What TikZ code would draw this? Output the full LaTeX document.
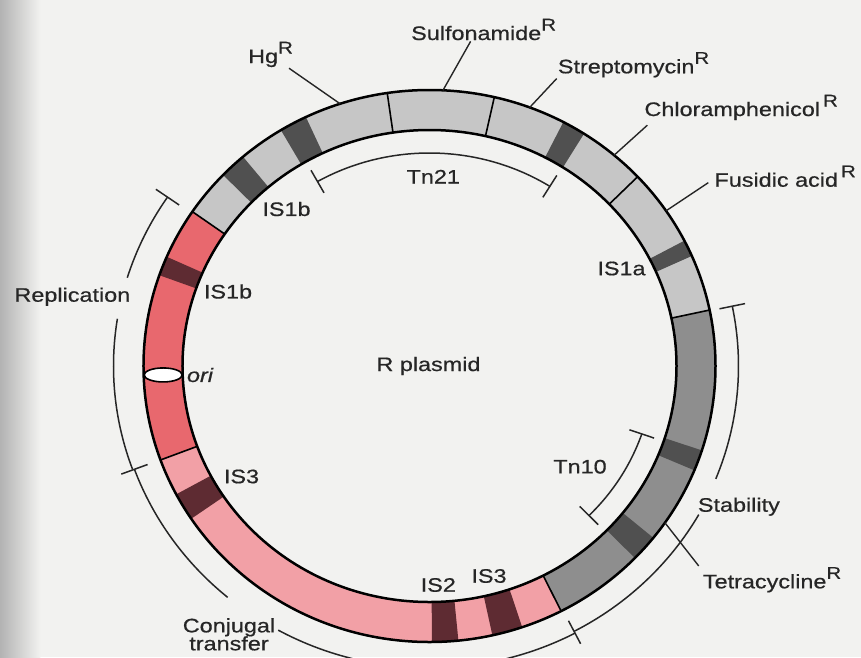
\documentclass[tikz,border=0pt]{standalone}
\usepackage{fontspec}
\setmainfont{Liberation Sans}[FakeStretch=1.2, FakeBold=0.6]
\usetikzlibrary{shapes.geometric}
\definecolor{PageGray}{HTML}{F2F2F0}
\definecolor{GeneGray}{HTML}{C6C6C6}
\definecolor{TnGray}{HTML}{8E8E8E}
\definecolor{ISGray}{HTML}{505050}
\definecolor{RepRed}{HTML}{E8686E}
\definecolor{TraPink}{HTML}{F2A0A6}
\definecolor{ISMaroon}{HTML}{5E2B32}
\newcommand{\resR}{\raisebox{9.5pt}{\fontsize{17}{17}\selectfont R}}
\newcommand{\ringpart}[3]{%
  \fill[#3] (#1:286pt and 276pt) arc[start angle=#1, end angle=#2, x radius=286, y radius=276]
    -- (#2:247pt and 236pt) arc[start angle=#2, end angle=#1, x radius=247, y radius=236] -- cycle;}
\newcommand{\ringcut}[1]{\draw[line width=1.6pt] (#1:247pt and 236pt) -- (#1:286pt and 276pt);}

\begin{document}
\begin{tikzpicture}[x=1pt, y=1pt,
        lbl/.style={font=\fontsize{19.5}{22}\selectfont, text=black!85, inner sep=1pt},
        brk/.style={line width=1.5pt, black!85},
        lead/.style={line width=1.4pt, black!85},
      ]
      \fill[PageGray] (-429.5,-291) rectangle (431.5,366);
      \shade[left color=black!30, right color=PageGray] (-429.5,-291) rectangle (-389,366);
      \useasboundingbox (-429.5,-291) rectangle (431.5,366);

      \ringpart{11.7}{146}{GeneGray}
      \ringpart{146}{199.9}{RepRed}
      \ringpart{199.9}{297.4}{TraPink}
      \ringpart{-62.6}{11.7}{TnGray}
      \ringpart{130.7}{136.2}{ISGray}
      \ringpart{115.6}{121.3}{ISGray}
      \ringpart{57.3}{62.1}{ISGray}
      \ringpart{23.5}{27}{ISGray}
      \ringpart{-22.2}{-17.8}{ISGray}
      \ringpart{-44.1}{-38.5}{ISGray}
      \ringpart{156.7}{160.8}{ISMaroon}
      \ringpart{207.7}{213.6}{ISMaroon}
      \ringpart{270.5}{275.8}{ISMaroon}
      \ringpart{282.7}{288.9}{ISMaroon}
      \ringcut{146}
      \ringcut{98.5}
      \ringcut{76.9}
      \ringcut{43.3}
      \ringcut{11.7}
      \ringcut{-62.6}
      \ringcut{199.9}
      \draw[line width=2.5pt] (0,0) ellipse[x radius=286, y radius=276];
      \draw[line width=2.5pt] (0,0) ellipse[x radius=247, y radius=236];

      \node[ellipse, draw, line width=1.6pt, fill=white, minimum width=38pt, minimum height=14pt, inner sep=0pt]
            (ori) at (182:266.5pt and 256pt) {};
      \node[lbl, font=\fontsize{19.5}{22}\selectfont\itshape] (oriLbl) at (-229.5,-9) {ori};

      \node[lbl] (plasmid) at (-1,0) {R plasmid};
      \node[lbl] (isOneBup) at (-143,157) {IS1b};
      \node[lbl] (isOneBlow) at (-201.5,74.5) {IS1b};
      \node[lbl] (isThreeL) at (-188,-110.5) {IS3};
      \node[lbl] (isOneA) at (192,97.5) {IS1a};
      \node[lbl] (isTwo) at (8.8,-219) {IS2};
      \node[lbl] (isThreeB) at (59.5,-210) {IS3};
      \node[lbl] (tn21) at (3.8,189.3) {Tn21};
      \node[lbl] (tn10) at (150.5,-100.7) {Tn10};

      \node[lbl, anchor=base west] (hgR) at (-182.5,303) {Hg\resR};
      \node[lbl, anchor=base west] (sulfR) at (-19.5,326) {Sulfonamide\resR};
      \node[lbl, anchor=base west] (strepR) at (127.2,292.7) {Streptomycin\resR};
      \node[lbl, anchor=base west] (chlorR) at (213.8,250) {Chloramphenicol\hspace{3pt}\resR};
      \node[lbl, anchor=base west] (fusR) at (283.8,179.3) {Fusidic acid\hspace{3pt}\resR};
      \node[lbl, anchor=base west] (tetR) at (272.2,-222.3) {Tetracycline\resR};
      \node[lbl, anchor=base west] (stab) at (267.2,-145.7) {Stability};
      \node[lbl, anchor=base west] (repl) at (-416.2,64.3) {Replication};
      \node[lbl, anchor=north, align=center] (conj) at (-200.5,-251) {Conjugal\\[-4pt]transfer};

      \coordinate (hgPt) at (108.2:286pt and 276pt);
      \coordinate (sulfPt) at (87.3:286pt and 276pt);
      \coordinate (strepPt) at (69.5:286pt and 276pt);
      \coordinate (chlorPt) at (49.8:286pt and 276pt);
      \coordinate (fusPt) at (34.2:286pt and 276pt);
      \coordinate (tetPt) at (-34.6:286pt and 276pt);
      \draw[lead] ([xshift=-5pt]hgR.south east) -- (hgPt);
      \draw[lead] ([xshift=-13pt]sulfR.south) -- (sulfPt);
      \draw[lead] (strepR.south west) -- (strepPt);
      \draw[lead] ([xshift=4pt,yshift=-4pt]chlorR.south west) -- (chlorPt);
      \draw[lead] ([xshift=-5pt,yshift=4pt]fusR.base west) -- (fusPt);
      \draw[lead] ([xshift=-3pt]tetR.north west) -- (tetPt);

      \draw[brk] (146:316pt and 302pt) arc[start angle=146, end angle=163, x radius=316, y radius=302];
      \draw[brk] (171:316pt and 302pt) arc[start angle=171, end angle=200, x radius=316, y radius=302];
      \draw[brk] (146:302pt and 288pt) -- (146:330pt and 316pt);
      \draw[brk] (200:300pt and 288pt) -- (200:328pt and 316pt);
      \draw[brk] (200:314pt and 302pt) arc[start angle=200, end angle=230, x radius=314, y radius=302];
      \draw[brk] (241:312pt and 302pt) arc[start angle=241, end angle=297.8, x radius=312, y radius=302];
      \draw[brk] (-62.2:298pt and 288pt) -- (-62.2:324pt and 314pt);
      \draw[brk] (-62.2:310pt and 300pt) arc[start angle=-62.2, end angle=-29.7, x radius=310, y radius=300];
      \draw[brk] (-22.1:309pt and 300pt) arc[start angle=-22.1, end angle=11.5, x radius=309, y radius=300];
      \draw[brk] (11.5:296pt and 287pt) -- (11.5:322pt and 313pt);

      \draw[brk] (57.5:224pt and 213pt) arc[start angle=57.5, end angle=120, x radius=224, y radius=213];
      \draw[brk] (57.5:211pt and 200pt) -- (57.5:237pt and 226pt);
      \draw[brk] (120:211pt and 200pt) -- (120:237pt and 226pt);
      \draw[brk] (-44.6:224pt and 213pt) arc[start angle=-44.6, end angle=-18.6, x radius=224, y radius=213];
      \draw[brk] (-44.6:211pt and 200pt) -- (-44.6:237pt and 226pt);
      \draw[brk] (-18.6:211pt and 200pt) -- (-18.6:237pt and 226pt);
    \end{tikzpicture}
\end{document}
